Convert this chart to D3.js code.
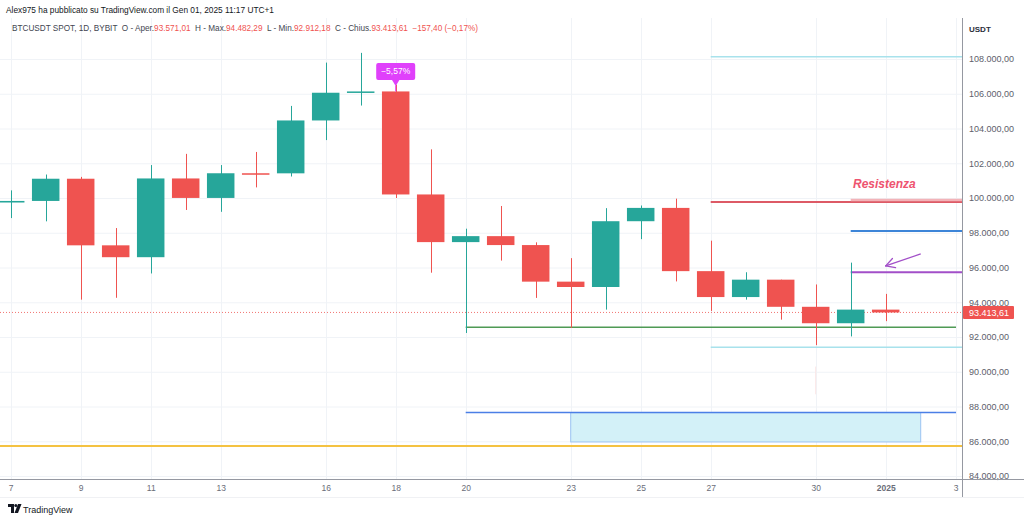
<!DOCTYPE html>
<html><head><meta charset="utf-8">
<script src="https://cdn.jsdelivr.net/npm/d3@7"></script>
<style>
body{margin:0;background:#fff;}
svg{display:block;font-family:"Liberation Sans",Arial,sans-serif;}
</style>
</head><body>
<svg id="c" width="1024" height="521"></svg>
<script>
// ---------------- DATA ----------------
const dates = ["2024-12-07","2024-12-08","2024-12-09","2024-12-10","2024-12-11","2024-12-12","2024-12-13",
  "2024-12-14","2024-12-15","2024-12-16","2024-12-17","2024-12-18","2024-12-19","2024-12-20","2024-12-21",
  "2024-12-22","2024-12-23","2024-12-24","2024-12-25","2024-12-26","2024-12-27","2024-12-28","2024-12-29",
  "2024-12-30","2024-12-31","2025-01-01"];
const openV  = [99740,99831,101109,97276,96593,101125,100004,101424,101420,104463,106058,106133,100204,97461,97805,97291,95186,94878,98664,99430,95791,94299,95300,93738,92792,93576];
const highV  = [100439,101351,101215,98270,101895,102540,101895,102650,105300,107793,108353,106524,102800,98233,99540,97448,96538,99416,99569,99963,97544,95726,95300,95024,96280,94482];
const lowV   = [98844,98657,94150,94256,95657,99311,99205,100610,101237,103333,105321,100000,95700,92232,96398,94250,92520,93576,97632,95199,93500,94150,93000,91530,92033,92912];
const closeV = [99831,101109,97276,96593,101125,100004,101424,101420,104463,106058,106133,100204,97461,97805,97291,95186,94878,98664,99430,95791,94299,95300,93738,92792,93576,93413];

const xTickDates = ["2024-12-07","2024-12-09","2024-12-11","2024-12-13","2024-12-16","2024-12-18","2024-12-20",
  "2024-12-23","2024-12-25","2024-12-27","2024-12-30","2025-01-01","2025-01-03"];
const yTicks = [84000,86000,88000,90000,92000,94000,96000,98000,100000,102000,104000,106000,108000];

// drawn horizontal levels: value, start date
const levelNames  = ["cyanTop","resistance","resistanceBand","blue","purple","green","cyanLow","blueLow","yellow"];
const levelValues = [108130, 99770, 99890, 98100, 95725, 92560, 91410, 87650, 85730];
const levelStarts = ["2024-12-27","2024-12-27","2024-12-31","2024-12-31","2024-12-31","2024-12-20","2024-12-27","2024-12-20",null];
const boxRange = [85960, 87650];           // shaded zone values
const boxDates = ["2024-12-23","2025-01-02"];
const arrowFrom = ["2025-01-02", 96780];
const arrowTo   = ["2025-01-01", 96090];
const lastPrice = 93413.61;
const changeLabel = "−5,57%";
const changeDate = "2024-12-18";

// ---------------- SETUP ----------------
const svg = d3.select("#c");
const W = 1024, H = 521;
const paneR = 962, paneT = 18, paneB = 479;
const P = s => new Date(s + "T00:00:00Z");
const x = d3.scaleUtc().domain([P("2024-12-07"), P("2025-01-03")]).range([10.7, 955.7]);
const y = d3.scaleLinear().domain([84000, 108000]).range([476, 59]);
const it = d3.formatLocale({decimal:",", thousands:".", grouping:[3], currency:["",""]});
const fmt = it.format(",.2f");
const up = "#26a69a", dn = "#ef5350";
const candleW = 27.5;

svg.append("rect").attr("width", W).attr("height", H).attr("fill", "#fff");

// clip
svg.append("defs").append("clipPath").attr("id","pane")
  .append("rect").attr("x",0).attr("y",paneT).attr("width",paneR).attr("height",paneB-paneT);

// grid
const grid = svg.append("g").attr("clip-path","url(#pane)");
grid.selectAll("line.h").data(yTicks).join("line")
  .attr("x1",0).attr("x2",paneR).attr("y1",d=>y(d)+0.5).attr("y2",d=>y(d)+0.5)
  .attr("stroke","#f0f3f7").attr("stroke-width",1);
grid.selectAll("line.v").data(xTickDates).join("line")
  .attr("y1",paneT).attr("y2",paneB).attr("x1",d=>Math.round(x(P(d)))+0.5).attr("x2",d=>Math.round(x(P(d)))+0.5)
  .attr("stroke","#f0f3f7").attr("stroke-width",1);

const g = svg.append("g").attr("clip-path","url(#pane)");

// shaded box
g.append("rect")
  .attr("x", x(P(boxDates[0]))).attr("width", x(P(boxDates[1])) - x(P(boxDates[0])))
  .attr("y", y(boxRange[1])).attr("height", y(boxRange[0]) - y(boxRange[1]))
  .attr("fill","#d3f1f8").attr("stroke","#9cc3f2").attr("stroke-width",1);

// levels
const levelStyle = {
  cyanTop:{c:"#a8e2ec",w:1.5,end:paneR},
  resistance:{c:"#dd5a66",w:2,end:paneR},
  resistanceBand:{c:"#f3b3b8",w:2.5,end:paneR},
  blue:{c:"#3d85d8",w:2,end:paneR},
  purple:{c:"#a24fc8",w:2,end:paneR},
  green:{c:"#4f9a55",w:1.5,end:956},
  cyanLow:{c:"#a8e2ec",w:1.5,end:paneR},
  blueLow:{c:"#4b7fe6",w:1.5,end:956},
  yellow:{c:"#f4c242",w:2,end:paneR}
};
levelNames.forEach((n,i)=>{
  const s = levelStyle[n];
  g.append("line")
    .attr("x1", levelStarts[i] ? x(P(levelStarts[i])) : 0).attr("x2", s.end)
    .attr("y1", y(levelValues[i])).attr("y2", y(levelValues[i]))
    .attr("stroke", s.c).attr("stroke-width", s.w);
});

// faint artifact at Dec 30
g.append("line").attr("x1",x(P("2024-12-30"))).attr("x2",x(P("2024-12-30")))
  .attr("y1",y(90300)).attr("y2",y(88700)).attr("stroke","#fae6e6").attr("stroke-width",1);

// last price dotted line
g.append("line").attr("x1",0).attr("x2",paneR).attr("y1",y(lastPrice)).attr("y2",y(lastPrice))
  .attr("stroke",dn).attr("stroke-width",1).attr("stroke-dasharray","1,2").attr("opacity",0.8);

// candles
const data = dates.map((d,i)=>({d:P(d),o:openV[i],h:highV[i],l:lowV[i],c:closeV[i]}));
const cg = g.selectAll("g.candle").data(data).join("g");
cg.append("line")
  .attr("x1",d=>Math.round(x(d.d))+0.5).attr("x2",d=>Math.round(x(d.d))+0.5)
  .attr("y1",d=>y(d.h)).attr("y2",d=>y(d.l))
  .attr("stroke",d=>d.c>=d.o?up:dn).attr("stroke-width",1);
cg.append("rect")
  .attr("x",d=>x(d.d)-candleW/2).attr("width",candleW)
  .attr("y",d=>y(Math.max(d.o,d.c)))
  .attr("height",d=>Math.max(1.5, y(Math.min(d.o,d.c))-y(Math.max(d.o,d.c))))
  .attr("fill",d=>d.c>=d.o?up:dn);

// arrow
{
  const x1 = x(P(arrowFrom[0])), y1 = y(arrowFrom[1]);
  const x2 = x(P(arrowTo[0])), y2 = y(arrowTo[1]);
  const ang = Math.atan2(y1-y2, x1-x2);
  const L = 10, a = 0.5;
  const col = "#a24fc8";
  g.append("line").attr("x1",x1).attr("y1",y1).attr("x2",x2).attr("y2",y2).attr("stroke",col).attr("stroke-width",1.3);
  [ang-a, ang+a].forEach(t=>{
    g.append("line").attr("x1",x2).attr("y1",y2).attr("x2",x2+L*Math.cos(t)).attr("y2",y2+L*Math.sin(t))
      .attr("stroke",col).attr("stroke-width",1.3).attr("stroke-linecap","round");
  });
}

// Resistenza text
g.append("text").attr("x",853).attr("y",y(99770)-14)
  .attr("font-size",12).attr("font-weight","bold").attr("font-style","italic")
  .attr("fill","#ee5470").text("Resistenza");

// change label (anchored above the candle body top)
{
  const i = dates.indexOf(changeDate);
  const cx = x(P(changeDate));
  const top = y(Math.max(openV[i], closeV[i]));
  const lg = svg.append("g");
  lg.append("line").attr("x1",cx).attr("x2",cx).attr("y1",top-6).attr("y2",top).attr("stroke","#e040fb").attr("stroke-width",1);
  lg.append("rect").attr("x",cx-19.5).attr("y",top-28.5).attr("width",39).attr("height",17).attr("rx",2).attr("fill","#e040fb");
  lg.append("path").attr("d",`M${cx-4},${top-12}L${cx+4},${top-12}L${cx},${top-5.5}Z`).attr("fill","#e040fb");
  lg.append("text").attr("x",cx).attr("y",top-17).attr("text-anchor","middle").attr("font-size",8.5)
    .attr("fill","#fff").text(changeLabel);
}

// ---------------- AXES ----------------
// price axis
const yAxis = d3.axisRight(y).tickValues(yTicks).tickFormat(fmt).tickSize(0).tickPadding(7);
const ya = svg.append("g").attr("transform",`translate(${paneR},0)`).call(yAxis);
ya.select(".domain").remove();
ya.selectAll("text").attr("font-size",9).attr("fill","#5d606b").attr("font-family","Liberation Sans, Arial, sans-serif");
svg.append("line").attr("x1",paneR+0.5).attr("x2",paneR+0.5).attr("y1",paneT).attr("y2",497).attr("stroke","#9598a1").attr("stroke-width",1);
svg.append("text").attr("x",969).attr("y",32).attr("font-size",8).attr("font-weight","bold").attr("fill","#2a2e39").text("USDT");

// last price tag
svg.append("rect").attr("x",paneR+1).attr("y",y(lastPrice)-6.5).attr("width",51).attr("height",13).attr("rx",1).attr("fill",dn);
svg.append("text").attr("x",paneR+7).attr("y",y(lastPrice)+3.2).attr("font-size",9).attr("fill","#fff").text(fmt(lastPrice));

// time axis
svg.append("line").attr("x1",0).attr("x2",W).attr("y1",paneB+0.5).attr("y2",paneB+0.5).attr("stroke","#9598a1").attr("stroke-width",1);
svg.append("line").attr("x1",0).attr("x2",W).attr("y1",497.5).attr("y2",497.5).attr("stroke","#f0f1f4").attr("stroke-width",1);
const xAxis = d3.axisBottom(x).tickValues(xTickDates.map(P)).tickSize(0).tickPadding(5)
  .tickFormat(d=> d.getUTCMonth()===0 && d.getUTCDate()===1 ? String(d.getUTCFullYear()) : String(d.getUTCDate()));
const xa = svg.append("g").attr("transform",`translate(0,${paneB+1})`).call(xAxis);
xa.select(".domain").remove();
xa.selectAll("text").attr("font-size",8.5).attr("fill","#6a6d78").attr("font-family","Liberation Sans, Arial, sans-serif")
  .attr("font-weight",d=> d.getUTCMonth()===0 && d.getUTCDate()===1 ? "bold":"normal");

// ---------------- HEADER ----------------
svg.append("text").attr("x",6).attr("y",13).attr("font-size",8.3).attr("fill","#131722")
  .text("Alex975 ha pubblicato su TradingView.com il Gen 01, 2025 11:17 UTC+1");
const leg = svg.append("text").attr("x",12).attr("y",31).attr("font-size",8.2).attr("fill","#434651").attr("xml:space","preserve");
const legParts = [
  ["BTCUSDT SPOT, 1D, BYBIT  O - Aper.","#434651"],["93.571,01","#ef5350"],
  ["  H - Max.","#434651"],["94.482,29","#ef5350"],
  ["  L - Min.","#434651"],["92.912,18","#ef5350"],
  ["  C - Chius.","#434651"],["93.413,61","#ef5350"],
  ["  −157,40 (−0,17%)","#ef5350"]
];
legParts.forEach(p=>leg.append("tspan").attr("fill",p[1]).text(p[0]));

// ---------------- LOGO ----------------
const logo = svg.append("g").attr("transform","translate(8,504)");
logo.append("path").attr("d","M0,0H6V9H3V3H0Z").attr("fill","#131722");
logo.append("circle").attr("cx",7.8).attr("cy",1.5).attr("r",1.5).attr("fill","#131722");
logo.append("path").attr("d","M10,0H13.5L10,9H6.5Z").attr("fill","#131722");
svg.append("text").attr("x",23).attr("y",513).attr("font-size",9).attr("fill","#131722").text("TradingView");
</script>
</body></html>
